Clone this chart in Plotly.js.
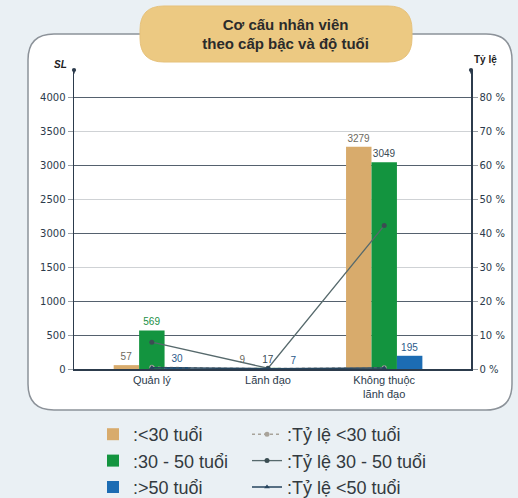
<!DOCTYPE html>
<html>
<head>
<meta charset="utf-8">
<script src="https://cdn.plot.ly/plotly-3.0.1.min.js"></script>
<style>html,body{margin:0;padding:0;background:#eaf0f4;}#chart{width:518px;height:498px;}</style>
</head>
<body>
<div id="chart"></div>
<script>
// ---- data ----
const categories = ["Quản lý", "Lãnh đạo", "Không thuộc<br>lãnh đạo"];
const under30 = [57, 9, 3279];
const from30to50 = [569, 17, 3049];
const over50 = [30, 7, 195];
const rateUnder30 = [0.5, 0.1, 0.4];
const rate30to50 = [7.9, 0.24, 42.3];
const rateOver50 = [0.4, 0.1, 0.3];
const leftTickVals = [0, 500, 1000, 1500, 2000, 2500, 3000, 3500, 4000];
const leftTickText = ["0", "500", "1000", "1500", "3000", "2500", "3000", "3500", "4000"];
const rightTickVals = [0, 10, 20, 30, 40, 50, 60, 70, 80];
const rightTickText = ["0 %", "10 %", "20 %", "30 %", "40 %", "50 %", "60 %", "70 %", "80 %"];
const legendNames = [":<30 tuổi", ":30 - 50 tuổi", ":>50 tuổi", ":Tỷ lệ <30 tuổi", ":Tỷ lệ 30 - 50 tuổi", ":Tỷ lệ <50 tuổi"];

// ---- layout helpers ----
const W = 518, H = 498;
const M = {l: 74, r: 47, t: 70, b: 129, autoexpand: false};
const PW = W - M.l - M.r, PH = H - M.t - M.b;
const px = x => (x - M.l) / PW;
const py = y => (H - M.b - y) / PH;
function roundRect(x0, y0, x1, y1, r) {
  const rx = r / PW, ry = r / PH;
  const X0 = px(x0), X1 = px(x1), Y0 = py(y0), Y1 = py(y1);
  return `M ${X0 + rx},${Y0} L ${X1 - rx},${Y0} Q ${X1},${Y0} ${X1},${Y0 - ry} ` +
    `L ${X1},${Y1 + ry} Q ${X1},${Y1} ${X1 - rx},${Y1} L ${X0 + rx},${Y1} ` +
    `Q ${X0},${Y1} ${X0},${Y1 + ry} L ${X0},${Y0 - ry} Q ${X0},${Y0} ${X0 + rx},${Y0} Z`;
}
const yMax = 4410;
const font = "Liberation Sans, Arial, sans-serif";
const tickFont = "DejaVu Sans, sans-serif";

const barCommon = {type: 'bar', x: categories, textposition: 'outside', cliponaxis: false,
  constraintext: 'none', hoverinfo: 'skip', legend: 'legend'};

const traces = [
  Object.assign({}, barCommon, {name: legendNames[0], y: under30, text: under30.map(String),
    marker: {color: '#d8ab6c', line: {width: 0}}, textfont: {size: 10, family: font, color: '#6d6a60'}}),
  Object.assign({}, barCommon, {name: legendNames[1], y: from30to50, text: from30to50.map(String),
    marker: {color: '#13943f'}, textfont: {size: 10, family: font, color: ['#1a8f46', '#3a4a55', '#3a4a55']}}),
  Object.assign({}, barCommon, {name: legendNames[2], y: over50, text: over50.map(String),
    marker: {color: '#1c6cb3'}, textfont: {size: 10, family: font, color: '#2a5a8a'}}),
  {type: 'scatter', mode: 'lines+markers', name: legendNames[3], x: categories, y: rateUnder30, yaxis: 'y2',
    legend: 'legend2', line: {color: '#a8a39a', width: 1.5, dash: 'dot'}, marker: {size: 5, color: '#a8a39a'}, hoverinfo: 'skip'},
  {type: 'scatter', mode: 'lines+markers', name: legendNames[4], x: categories, y: rate30to50, yaxis: 'y2',
    legend: 'legend2', line: {color: '#56696c', width: 1.3}, marker: {size: 5, color: '#3b4d52'}, hoverinfo: 'skip'},
  {type: 'scatter', mode: 'lines+markers', name: legendNames[5], x: categories, y: rateOver50, yaxis: 'y2',
    legend: 'legend2', line: {color: '#26455e', width: 1.5}, marker: {size: 5, symbol: 'triangle-up', color: '#26455e'}, hoverinfo: 'skip'},
  {type: 'scatter', mode: 'lines', x: categories, y: [null, null, null], yaxis: 'y3', showlegend: false, hoverinfo: 'skip'}
];

const legendCommon = {orientation: 'v', xanchor: 'left', yanchor: 'top', y: py(416),
  font: {size: 18, color: '#333a40', family: font}, bgcolor: 'rgba(0,0,0,0)', traceorder: 'normal', itemclick: false};

const layout = {
  width: W, height: H,
  margin: M,
  paper_bgcolor: '#eaf0f4',
  plot_bgcolor: 'rgba(0,0,0,0)',
  font: {family: font, color: '#33414e'},
  barmode: 'group', bargap: 0.343, bargroupgap: 0,
  title: {text: '<b>Cơ cấu nhân viên<br>theo cấp bậc và độ tuổi</b>', font: {size: 15, color: '#2b2b2b', family: font},
    x: 0.533, xanchor: 'center', y: 0.94, yanchor: 'middle', xref: 'paper', yref: 'container'},
  xaxis: {type: 'category', range: [-0.67, 2.747], showline: true, linecolor: '#2c3b4c', linewidth: 1.5,
    ticks: '', tickfont: {size: 11, color: '#2c3b4c'}, showgrid: false, fixedrange: true},
  yaxis: {range: [0, yMax], tickvals: leftTickVals, ticktext: leftTickText, showline: true, linecolor: '#2c3b4c',
    linewidth: 1.5, ticks: 'outside', ticklen: 5, tickcolor: '#9aa0a6', tickfont: {size: 10, color: '#2c3b4c', family: tickFont},
    gridcolor: '#cfd2d5', gridwidth: 1, zeroline: false},
  yaxis3: {range: [0, yMax], overlaying: 'y', tickvals: [500, 1000, 2000, 3000, 4000], showticklabels: false,
    gridcolor: '#55616e', gridwidth: 1, zeroline: false, showline: false, ticks: ''},
  yaxis2: {range: [0, yMax / 50], overlaying: 'y', side: 'right', tickvals: rightTickVals, ticktext: rightTickText,
    showline: true, linecolor: '#2c3b4c', linewidth: 1.5, ticks: 'outside', ticklen: 5, tickcolor: '#9aa0a6',
    tickfont: {size: 10, color: '#2c3b4c', family: tickFont}, showgrid: false, zeroline: false},
  showlegend: true,
  legend: Object.assign({}, legendCommon, {x: px(93)}),
  legend2: Object.assign({}, legendCommon, {x: px(247)}),
  shapes: [
    {type: 'path', xref: 'paper', yref: 'paper', path: roundRect(28, 34, 512, 410, 26), layer: 'below',
      fillcolor: '#ffffff', line: {color: '#8c9299', width: 1.5}},
    {type: 'path', xref: 'paper', yref: 'paper', path: roundRect(140, 6, 412, 62, 24), layer: 'above',
      fillcolor: '#ecc982', line: {color: '#e6c17a', width: 1}}
  ],
  annotations: [
    {xref: 'paper', yref: 'paper', x: px(60), y: py(64), xanchor: 'center', yanchor: 'middle',
      text: '<b><i>SL</i></b>', showarrow: false, font: {size: 10, color: '#222', family: font}},
    {xref: 'paper', yref: 'paper', x: px(485), y: py(60), xanchor: 'center', yanchor: 'middle',
      text: '<b>Tỷ lệ</b>', showarrow: false, font: {size: 10, color: '#222', family: font}},
    {xref: 'paper', yref: 'paper', x: 0, y: 1, text: '', showarrow: true, ax: 0, ay: 5, arrowhead: 6,
      arrowsize: 0.7, arrowwidth: 1.5, arrowcolor: '#2c3b4c'},
    {xref: 'paper', yref: 'paper', x: 1, y: 1, text: '', showarrow: true, ax: 0, ay: 5, arrowhead: 6,
      arrowsize: 0.7, arrowwidth: 1.5, arrowcolor: '#2c3b4c'}
  ]
};

Plotly.newPlot('chart', traces, layout, {displayModeBar: false, staticPlot: true});
</script>
</body>
</html>
